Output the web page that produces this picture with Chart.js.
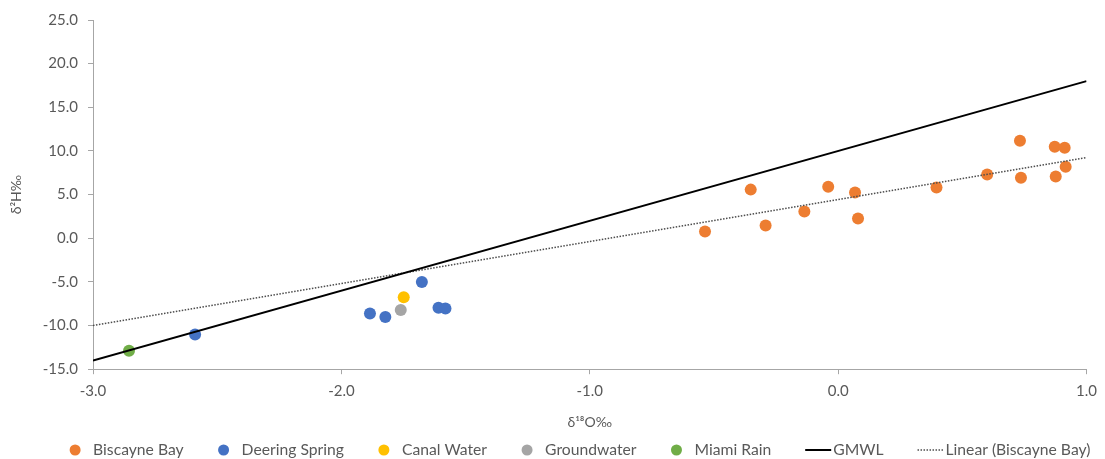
<!DOCTYPE html>
<html><head><meta charset="utf-8">
<script src="https://cdn.jsdelivr.net/npm/chart.js@4.4.1/dist/chart.umd.min.js"></script>
<style>html,body{margin:0;padding:0;background:#fff;}#wrap{width:1105px;height:459px;}</style>
</head><body><div id="wrap"><canvas id="c" width="1105" height="459"></canvas></div>
<script>
// ---- data ----
const seriesNames = ['Biscayne Bay', 'Deering Spring', 'Canal Water', 'Groundwater', 'Miami Rain', 'GMWL', 'Linear (Biscayne Bay)'];
const biscayneX = [-0.536, -0.352, -0.292, -0.136, -0.040, 0.068, 0.080, 0.396, 0.600, 0.732, 0.736, 0.872, 0.876, 0.912, 0.916];
const biscayneY = [0.77, 5.57, 1.46, 3.06, 5.91, 5.23, 2.26, 5.80, 7.29, 11.17, 6.94, 10.49, 7.06, 10.37, 8.20];
const deeringX = [-2.589, -1.885, -1.823, -1.676, -1.609, -1.581];
const deeringY = [-11.03, -8.63, -9.02, -5.02, -7.95, -8.06];
const canalX = [-1.749];
const canalY = [-6.77];
const groundX = [-1.761];
const groundY = [-8.22];
const rainX = [-2.855];
const rainY = [-12.89];
const gmwlX = [-3.0, 1.0];
const gmwlY = [-14.0, 18.0];
const trendX = [-3.0, 1.0];
const trendY = [-10.0, 9.25];
const xTicks = [-3.0, -2.0, -1.0, 0.0, 1.0];
const yTicks = [-15.0, -10.0, -5.0, 0.0, 5.0, 10.0, 15.0, 20.0, 25.0];
const xTitle = 'δ¹⁸O‰';
const yTitle = 'δ²H‰';

const pts = (xs, ys) => xs.map((x, i) => ({x, y: ys[i]}));
const FONT = 'Lato';
const TXT = '#595959';

function dotSet(label, xs, ys, color) {
  return {label, data: pts(xs, ys), backgroundColor: color, borderColor: color, borderWidth: 0,
    pointRadius: 6, pointHoverRadius: 6, showLine: false, order: 2};
}

const legendPlugin = {
  id: 'customLegend',
  afterDraw(chart) {
    const ctx = chart.ctx;
    ctx.save();
    ctx.font = '15.7px ' + FONT;
    ctx.textBaseline = 'middle';
    const items = chart.data.datasets.map(d => ({
      label: d.label, color: d.borderColor, line: !!d.showLine,
      dash: d.borderDash || [], lw: d.borderWidth
    }));
    const dotW = 12, dotGap = 12, lineW = 26, lineGap = 2, itemGap = 34;
    items.forEach(it => {
      it.tw = ctx.measureText(it.label).width;
      it.w = (it.line ? lineW + lineGap : dotW + dotGap) + it.tw;
    });
    const total = items.reduce((s, it) => s + it.w, 0) + itemGap * (items.length - 1);
    let x = (chart.chartArea.left + chart.chartArea.right) / 2 - 10 - total / 2;
    const y = 450;
    items.forEach(it => {
      if (it.line) {
        ctx.beginPath();
        ctx.strokeStyle = it.color;
        ctx.lineWidth = it.lw;
        ctx.setLineDash(it.dash);
        ctx.moveTo(x, y);
        ctx.lineTo(x + lineW, y);
        ctx.stroke();
        ctx.setLineDash([]);
        x += lineW + lineGap;
      } else {
        ctx.beginPath();
        ctx.fillStyle = it.color;
        ctx.arc(x + dotW / 2, y, 5.5, 0, Math.PI * 2);
        ctx.fill();
        x += dotW + dotGap;
      }
      ctx.fillStyle = TXT;
      ctx.textAlign = 'left';
      ctx.fillText(it.label, x, y);
      x += it.tw + itemGap;
    });
    ctx.restore();
  }
};

new Chart(document.getElementById('c'), {
  type: 'scatter',
  data: {
    datasets: [
      dotSet(seriesNames[0], biscayneX, biscayneY, '#ED7D31'),
      dotSet(seriesNames[1], deeringX, deeringY, '#4472C4'),
      dotSet(seriesNames[2], canalX, canalY, '#FFC000'),
      dotSet(seriesNames[3], groundX, groundY, '#A5A5A5'),
      dotSet(seriesNames[4], rainX, rainY, '#70AD47'),
      {label: seriesNames[5], data: pts(gmwlX, gmwlY), showLine: true, borderColor: '#000000',
        borderWidth: 2, pointRadius: 0, pointHoverRadius: 0, order: 1},
      {label: seriesNames[6], data: pts(trendX, trendY), showLine: true, borderColor: '#4d4d4d',
        borderWidth: 1.6, borderDash: [1.5, 1.5], pointRadius: 0, pointHoverRadius: 0, order: 1}
    ]
  },
  options: {
    responsive: false,
    animation: false,
    devicePixelRatio: 1,
    layout: {padding: {top: 20, right: 12, left: 0, bottom: 28}},
    plugins: {legend: {display: false}, tooltip: {enabled: false}},
    scales: {
      x: {
        type: 'linear', min: xTicks[0], max: xTicks[xTicks.length - 1],
        afterBuildTicks: s => { s.ticks = xTicks.map(v => ({value: v})); },
        grid: {drawOnChartArea: false, drawTicks: true, tickLength: 5, color: '#a6a6a6'},
        border: {display: true, color: '#a6a6a6', width: 1},
        ticks: {color: TXT, font: {family: FONT, size: 15}, padding: 8, callback: v => Number(v).toFixed(1)},
        title: {display: true, text: xTitle, color: TXT, font: {family: FONT, size: 14}, padding: {top: 6, bottom: 0}}
      },
      y: {
        type: 'linear', min: yTicks[0], max: yTicks[yTicks.length - 1],
        afterBuildTicks: s => { s.ticks = yTicks.map(v => ({value: v})); },
        afterFit: s => { s.width = 93; },
        grid: {drawOnChartArea: false, drawTicks: true, tickLength: 5, color: '#a6a6a6'},
        border: {display: true, color: '#a6a6a6', width: 1},
        ticks: {color: TXT, font: {family: FONT, size: 15}, padding: 10, callback: v => Number(v).toFixed(1)},
        title: {display: true, text: yTitle, color: TXT, font: {family: FONT, size: 14}, padding: {top: 8, bottom: 0}}
      }
    }
  },
  plugins: [legendPlugin]
});
</script>
</body></html>
